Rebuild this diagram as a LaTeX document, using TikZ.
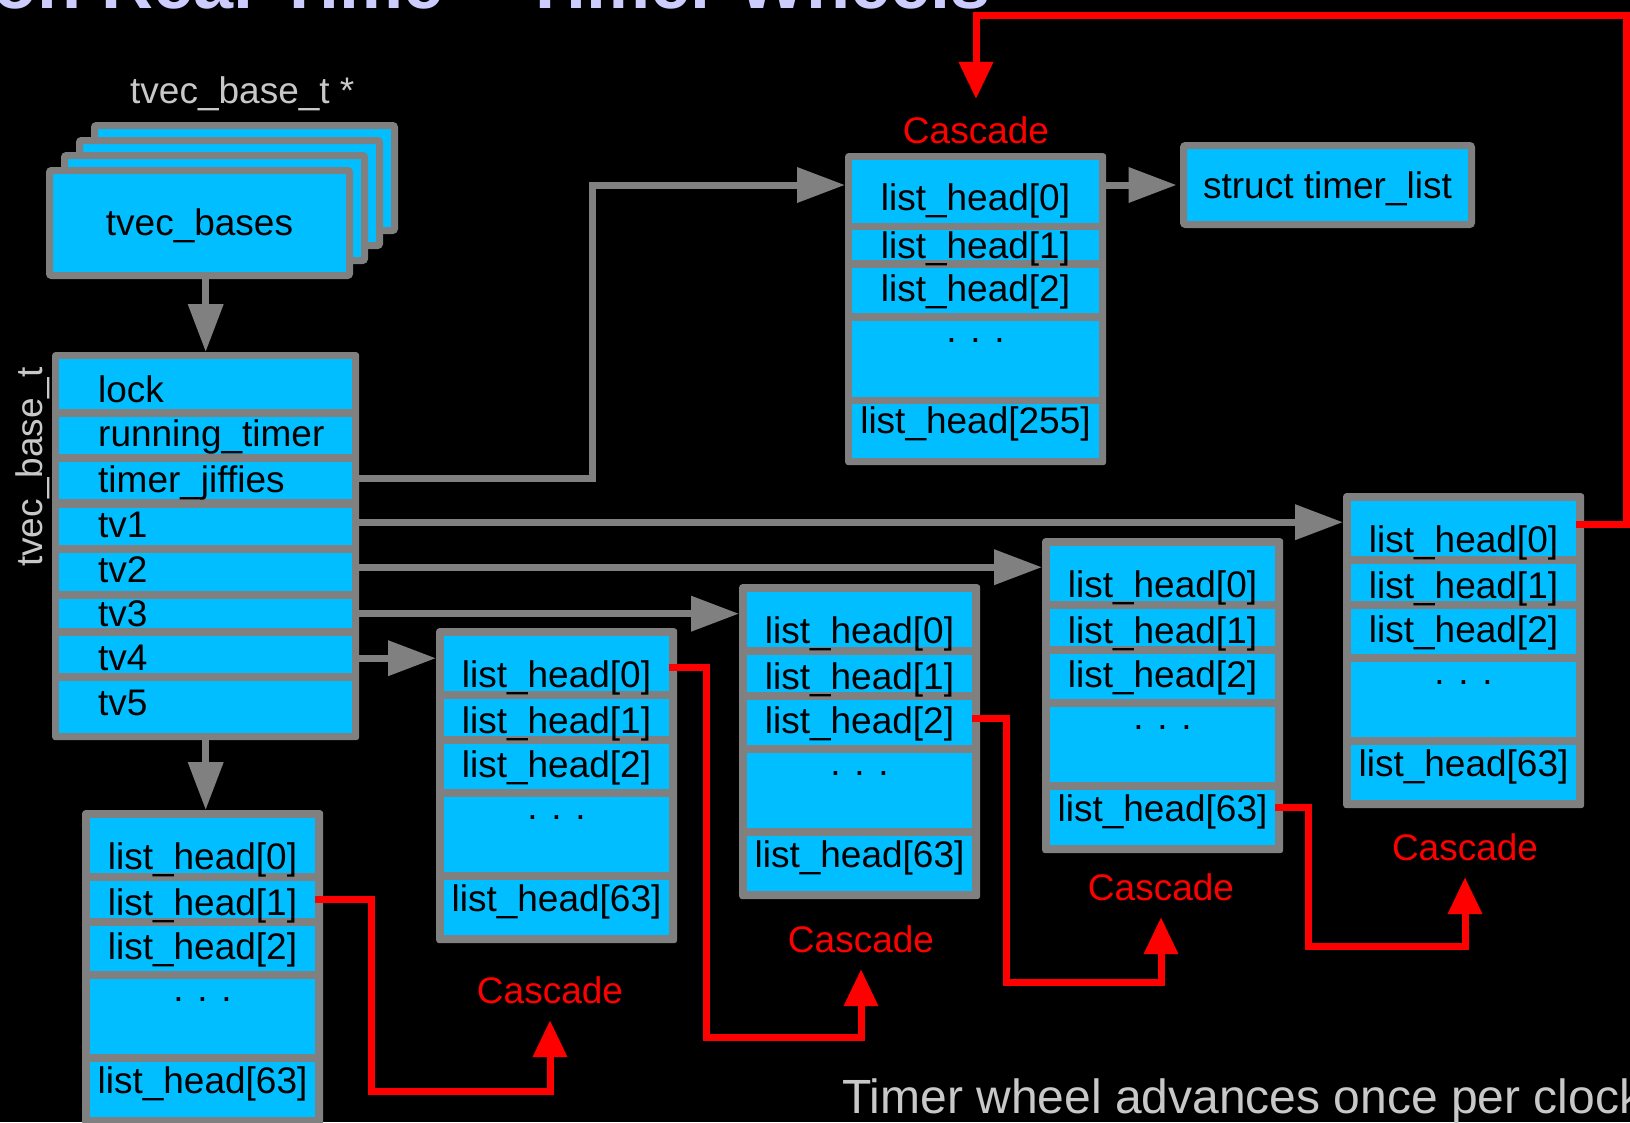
\documentclass[tikz,border=0pt]{standalone}
\usepackage{fontspec}
\setmainfont{Liberation Sans}
\usetikzlibrary{arrows.meta}

\definecolor{framegray}{RGB}{128,128,128}
\definecolor{cellblue}{RGB}{0,190,255}
\definecolor{lightlabel}{RGB}{200,200,200}
\definecolor{cascred}{RGB}{255,0,0}
\definecolor{titlelav}{RGB}{204,204,255}

\tikzset{
  x=1pt, y=-1pt,
  bodyfont/.style={font=\fontsize{37pt}{44pt}\selectfont},
  frame/.style={fill=framegray, rounded corners=3pt, inner sep=0pt, anchor=north west},
  cell/.style={fill=cellblue, inner sep=0pt, anchor=north west},
  card/.style={draw=framegray, line width=7pt, fill=cellblue, rounded corners=2pt,
    inner sep=0pt, minimum width=300pt, minimum height=105pt, bodyfont},
  celltext/.style={inner sep=0pt, bodyfont, text=black},
  graylabel/.style={inner sep=0pt, bodyfont, text=lightlabel},
  cascade/.style={inner xsep=0pt, inner ysep=17pt, text depth=0pt, bodyfont,
    text=cascred, anchor=base},
  link/.style={draw=framegray, line width=7pt, -{Triangle[length=48pt,width=34pt]}},
  cascadelink/.style={draw=cascred, line width=7pt, -{Triangle[length=37pt,width=33pt]}},
}

% one 64-slot wheel: name, left edge, top edge
\newcommand{\wheelsixtyfour}[3]{%
  \begin{scope}[shift={(#2,#3)}]
    \node[frame, minimum width=241pt, minimum height=315pt] (#1) at (0,0) {};
    \node[cell, minimum width=225pt, minimum height=55pt] (#1-0) at (8,8) {};
    \node[cell, minimum width=225pt, minimum height=37pt] (#1-1) at (8,71) {};
    \node[cell, minimum width=225pt, minimum height=45pt] (#1-2) at (8,116) {};
    \node[cell, minimum width=225pt, minimum height=75pt] (#1-d) at (8,169) {};
    \node[cell, minimum width=225pt, minimum height=55pt] (#1-63) at (8,252) {};
    \node[celltext, anchor=base] (#1-0t) at (120.5,59) {list\_head[0]};
    \node[celltext, anchor=base] (#1-1t) at (120.5,105) {list\_head[1]};
    \node[celltext, anchor=base] (#1-2t) at (120.5,149) {list\_head[2]};
    \node[celltext, anchor=base] (#1-dt) at (120.5,191) {. . .};
    \node[celltext, anchor=base] (#1-63t) at (120.5,283) {list\_head[63]};
  \end{scope}}

\begin{document}
\begin{tikzpicture}
  \clip (0,0) rectangle (1630,1122);
  \fill[black] (0,0) rectangle (1630,1122);

  % slide title, mostly above the frame
  \node[anchor=base west, inner sep=0pt, text=titlelav,
        font=\fontsize{72pt}{80pt}\bfseries\selectfont] (title) at (-7,8)
        {on Real-Time -- Timer Wheels};

  % per-CPU array of bases
  \node[graylabel, anchor=base west] (ptrlabel) at (130,103) {tvec\_base\_t *};
  \node[card] (bk3) at (244.5,178) {};
  \node[card] (bk2) at (229.5,193) {};
  \node[card] (bk1) at (214.5,208) {};
  \node[card] (tb) at (199.5,223) {};
  \node[celltext, anchor=base] (tbt) at (199.5,235) {tvec\_bases};

  % tvec_base_t structure
  \node[graylabel, anchor=base west, rotate=90] (typelabel) at (42,567) {tvec\_base\_t};
  \node[frame, minimum width=307pt, minimum height=388pt] (blk) at (52,352) {};
  \node[cell, minimum width=293pt, minimum height=50pt] (r1) at (59,359) {};
  \node[cell, minimum width=293pt, minimum height=37pt] (r2) at (59,417) {};
  \node[cell, minimum width=293pt, minimum height=37pt] (r3) at (59,462) {};
  \node[cell, minimum width=293pt, minimum height=37pt] (r4) at (59,508) {};
  \node[cell, minimum width=293pt, minimum height=38pt] (r5) at (59,553) {};
  \node[cell, minimum width=293pt, minimum height=29pt] (r6) at (59,599) {};
  \node[cell, minimum width=293pt, minimum height=37pt] (r7) at (59,636) {};
  \node[cell, minimum width=293pt, minimum height=52pt] (r8) at (59,681) {};
  \node[celltext, anchor=base west] (r1t) at (98,402) {lock};
  \node[celltext, anchor=base west] (r2t) at (98,446) {running\_timer};
  \node[celltext, anchor=base west] (r3t) at (98,492) {timer\_jiffies};
  \node[celltext, anchor=base west] (r4t) at (98,537) {tv1};
  \node[celltext, anchor=base west] (r5t) at (98,582) {tv2};
  \node[celltext, anchor=base west] (r6t) at (98,626) {tv3};
  \node[celltext, anchor=base west] (r7t) at (98,670) {tv4};
  \node[celltext, anchor=base west] (r8t) at (98,715) {tv5};

  % 256-slot wheel
  \node[frame, minimum width=261pt, minimum height=312pt] (T) at (845,153) {};
  \node[cell, minimum width=247pt, minimum height=63pt] (T-0) at (852,160) {};
  \node[cell, minimum width=247pt, minimum height=30pt] (T-1) at (852,230) {};
  \node[cell, minimum width=247pt, minimum height=45pt] (T-2) at (852,268) {};
  \node[cell, minimum width=247pt, minimum height=76pt] (T-d) at (852,321) {};
  \node[cell, minimum width=247pt, minimum height=54pt] (T-255) at (852,404) {};
  \node[celltext, anchor=base] (T-0t) at (975.5,210) {list\_head[0]};
  \node[celltext, anchor=base] (T-1t) at (975.5,258) {list\_head[1]};
  \node[celltext, anchor=base] (T-2t) at (975.5,301) {list\_head[2]};
  \node[celltext, anchor=base] (T-dt) at (975.5,342) {. . .};
  \node[celltext, anchor=base] (T-255t) at (975.5,433) {list\_head[255]};

  \node[card, minimum width=288pt, minimum height=79pt] (S) at (1327.5,185) {};
  \node[celltext, anchor=base] (St) at (1327.5,198) {struct timer\_list};

  % 64-slot wheels
  \wheelsixtyfour{A}{82}{810}
  \wheelsixtyfour{B}{436}{628}
  \wheelsixtyfour{C}{739}{584}
  \wheelsixtyfour{D}{1042}{538}
  \wheelsixtyfour{E}{1343}{493}

  % cascade labels
  \node[cascade] (cT) at (976,143) {Cascade};
  \node[cascade] (cB) at (550,1003) {Cascade};
  \node[cascade] (cC) at (861,952) {Cascade};
  \node[cascade] (cD) at (1161,900) {Cascade};
  \node[cascade] (cE) at (1465,860) {Cascade};

  \node[graylabel, anchor=base west, font=\fontsize{48pt}{56pt}\selectfont] (caption)
        at (842,1113) {Timer wheel advances once per clock};

  % pointers out of tvec_base_t
  \coordinate (o3) at ([yshift=2.5pt]r3.east);
  \coordinate (o4) at ([yshift=4.5pt]r4.east);
  \coordinate (o5) at ([yshift=5pt]r5.east);
  \coordinate (o6) at (r6.east);
  \coordinate (o7) at ([yshift=-3.5pt]r7.east);
  \coordinate (jbend) at (592,185);
  \draw[link] (tb.south -| blk.north) -- (blk.north);
  \draw[link] (blk.south) -- (blk.south |- A.north);
  \draw[link] (o3) -| (jbend) -- (jbend -| T.west);
  \draw[link] (o4) -- (o4 -| E.west);
  \draw[link] (o5) -- (o5 -| D.west);
  \draw[link] (o6) -- (o6 -| C.west);
  \draw[link] (o7) -- (o7 -| B.west);
  \draw[link] (S.west -| T.east) -- ([xshift=-3.5pt]S.west);

  % cascade paths
  \coordinate (bendA) at (371,1091);
  \coordinate (bendB) at (706,1037);
  \coordinate (bendC) at (1006,982);
  \coordinate (bendD) at (1308,946);
  \coordinate (bendE) at (1626,15);
  \draw[cascadelink] (A-1.east) -| (bendA) -| (cB.south);
  \draw[cascadelink] ([yshift=-3.5pt]B-0.east) -| (bendB) -| (cC.south);
  \draw[cascadelink] ([yshift=4pt]C-2.east) -| (bendC) -| (cD.south);
  \draw[cascadelink] ([yshift=10pt]D-63.east) -| (bendD) -| (cE.south);
  \draw[cascadelink] ([yshift=4.5pt]E-0.east) -| (bendE) -| (cT.north);
\end{tikzpicture}
\end{document}
